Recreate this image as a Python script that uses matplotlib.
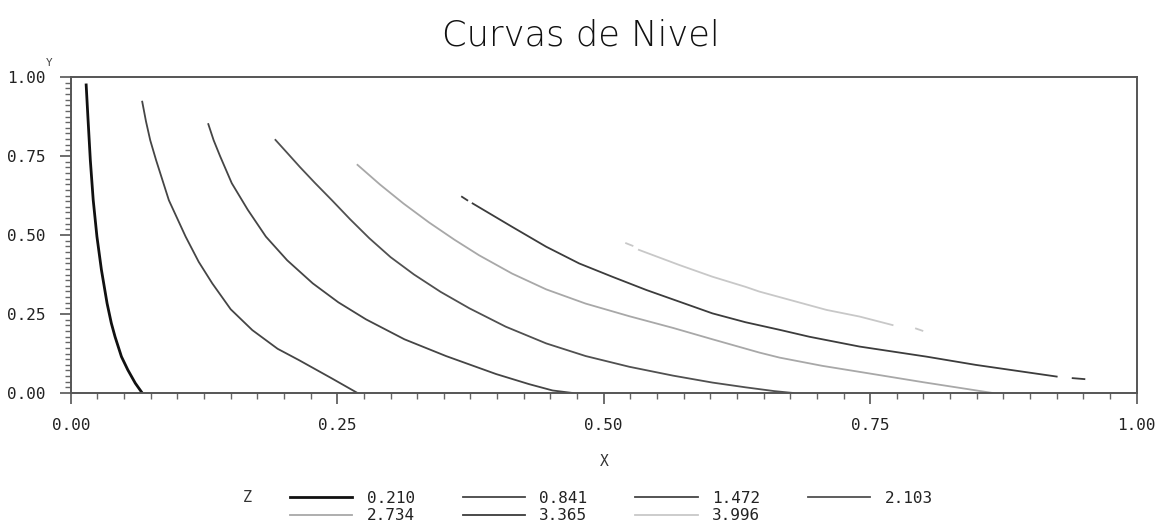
import numpy as np
import matplotlib
matplotlib.use("Agg")
import matplotlib.pyplot as plt
from matplotlib.ticker import MultipleLocator, AutoMinorLocator

nan = np.nan

# niveles de Z
levels = ["0.210", "0.841", "1.472", "2.103", "2.734", "3.365", "3.996"]

# curvas (x, y); nan = hueco en la linea
c0210_x = [0.0144, 0.0160, 0.0183, 0.0210, 0.0245, 0.0287, 0.0340, 0.0380, 0.0415,
           0.0475, 0.0535, 0.0605, 0.0670]
c0210_y = [0.975, 0.875, 0.737, 0.611, 0.495, 0.390, 0.284, 0.221, 0.178,
           0.115, 0.073, 0.031, 0.0]

c0841_x = [0.067, 0.0705, 0.0745, 0.080, 0.092, 0.1077, 0.120, 0.1327, 0.150, 0.1703,
           0.194, 0.2141, 0.245, 0.269]
c0841_y = [0.922, 0.860, 0.800, 0.737, 0.610, 0.495, 0.415, 0.347, 0.265, 0.199,
           0.140, 0.104, 0.046, 0.0]

c1472_x = [0.129, 0.134, 0.140, 0.151, 0.166, 0.183, 0.203, 0.227, 0.251, 0.277,
           0.313, 0.352, 0.399, 0.430, 0.452, 0.471]
c1472_y = [0.851, 0.800, 0.750, 0.664, 0.580, 0.495, 0.420, 0.347, 0.287, 0.233,
           0.170, 0.117, 0.060, 0.028, 0.008, 0.0]

c2103_x = [0.192, 0.203, 0.215, 0.229, 0.245, 0.262, 0.280, 0.300, 0.322, 0.347,
           0.374, 0.408, 0.446, 0.483, 0.524, 0.565, 0.602, 0.633, 0.660, 0.678]
c2103_y = [0.801, 0.760, 0.715, 0.665, 0.610, 0.550, 0.490, 0.430, 0.375, 0.320,
           0.268, 0.210, 0.157, 0.117, 0.083, 0.055, 0.033, 0.018, 0.006, 0.0]

c2734_x = [0.269, 0.290, 0.312, 0.336, 0.360, 0.383, 0.414, 0.446, 0.483, 0.524,
           0.565, 0.602, 0.646, 0.665, 0.705, 0.749, 0.800, 0.846, 0.865]
c2734_y = [0.722, 0.660, 0.600, 0.540, 0.485, 0.436, 0.378, 0.328, 0.283, 0.243,
           0.206, 0.170, 0.128, 0.112, 0.086, 0.062, 0.034, 0.010, 0.0]

c3365_x = [0.367, 0.372, nan, 0.377, 0.414, 0.446, 0.477, 0.508, 0.540, 0.571,
           0.602, 0.633, 0.665, 0.693, 0.740, 0.803, 0.849, 0.925, nan, 0.940, 0.951]
c3365_y = [0.621, 0.610, nan, 0.600, 0.526, 0.463, 0.410, 0.368, 0.326, 0.289,
           0.252, 0.224, 0.200, 0.178, 0.147, 0.115, 0.089, 0.052, nan, 0.047, 0.044]

c3996_x = [0.521, 0.527, nan, 0.533, 0.571, 0.602, 0.633, 0.646, 0.709, 0.740,
           0.771, nan, 0.793, 0.799]
c3996_y = [0.474, 0.466, nan, 0.453, 0.405, 0.368, 0.336, 0.321, 0.263, 0.242,
           0.215, nan, 0.204, 0.197]

curves_x = [c0210_x, c0841_x, c1472_x, c2103_x, c2734_x, c3365_x, c3996_x]
curves_y = [c0210_y, c0841_y, c1472_y, c2103_y, c2734_y, c3365_y, c3996_y]
colores = ["#111111", "#454545", "#454545", "#505050", "#a8a8a8", "#3c3c3c", "#c8c8c8"]
anchos = [2.0, 1.3, 1.3, 1.3, 1.3, 1.3, 1.3]

mono = "DejaVu Sans Mono"

fig = plt.figure(figsize=(11.61, 5.24), dpi=100)
ax = fig.add_axes([0.061, 0.25, 0.918, 0.603])

lineas = []
for cx, cy, col, lw, lab in zip(curves_x, curves_y, colores, anchos, levels):
    ln, = ax.plot(cx, cy, color=col, lw=lw, label=lab, solid_joinstyle="round")
    lineas.append(ln)

ax.set_xlim(0, 1)
ax.set_ylim(0, 1)
ax.xaxis.set_major_locator(MultipleLocator(0.25))
ax.yaxis.set_major_locator(MultipleLocator(0.25))
ax.xaxis.set_minor_locator(AutoMinorLocator(10))
ax.yaxis.set_minor_locator(AutoMinorLocator(14))
ax.xaxis.set_major_formatter(plt.FormatStrFormatter("%.2f"))
ax.yaxis.set_major_formatter(plt.FormatStrFormatter("%.2f"))

for s in ax.spines.values():
    s.set_color("#555555")
    s.set_linewidth(1.4)

ax.tick_params(which="major", direction="out", length=8, width=1.2, color="#555555",
               pad=10, labelsize=11.5, labelcolor="#222222")
ax.tick_params(which="minor", direction="out", length=4, width=1.0, color="#666666")
for t in ax.get_xticklabels() + ax.get_yticklabels():
    t.set_family(mono)

# titulo y etiquetas
fig.text(0.5, 1 - 35 / 524, "Curvas de Nivel", ha="center", va="center",
         fontsize=25.5, color="#111111", family="DejaVu Sans", fontweight="light")
fig.text(49 / 1161, 1 - 63 / 524, "Y", ha="center", va="center",
         fontsize=8, color="#444444", family=mono)
fig.text(604 / 1161, 1 - 462 / 524, "X", ha="center", va="center",
         fontsize=10.5, color="#333333", family=mono)

# leyenda
orden = [0, 4, 1, 5, 2, 6, 3]
fig.text(247 / 1161, 1 - 497 / 524, "Z", ha="center", va="center",
         fontsize=11, color="#333333", family=mono)
leg = fig.legend([lineas[i] for i in orden], [levels[i] for i in orden],
                 loc="center left", bbox_to_anchor=(282 / 1161, 1 - 507 / 524),
                 ncol=4, frameon=False, handlelength=3.9, handletextpad=0.9,
                 columnspacing=3.0, labelspacing=0.15, borderpad=0,
                 prop={"family": mono, "size": 11.5})
for t in leg.get_texts():
    t.set_color("#222222")

fig.savefig("out.png", dpi=100)
